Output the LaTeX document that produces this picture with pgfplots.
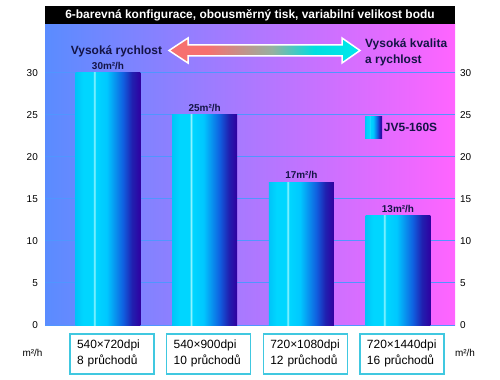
\documentclass[border=0pt]{standalone}
\usepackage{pgfplots}
\pgfplotsset{compat=1.18}
\usepackage{fontspec}
\setmainfont{Liberation Sans}
\definecolor{navy}{RGB}{20,20,70}
\definecolor{bgL}{RGB}{90,140,255}
\definecolor{bgR}{RGB}{255,100,255}
\definecolor{gridc}{RGB}{80,150,255}
\definecolor{boxc}{RGB}{64,200,224}
\definecolor{bA}{RGB}{0,196,248}
\definecolor{bB}{RGB}{0,214,255}
\definecolor{bH}{RGB}{150,245,255}
\definecolor{bC}{RGB}{0,200,255}
\definecolor{bD}{RGB}{16,96,224}
\definecolor{bF}{RGB}{32,32,176}
\definecolor{bE}{RGB}{48,0,160}
\definecolor{arL}{RGB}{246,112,112}
\definecolor{arM}{RGB}{150,176,160}
\definecolor{arC}{RGB}{0,222,224}
\definecolor{arR}{RGB}{0,232,236}
\pgfdeclarehorizontalshading{barshade}{100bp}{color(0bp)=(bA); color(25bp)=(bA); color(31bp)=(bB); color(38.3bp)=(bB); color(39.5bp)=(bH); color(40.7bp)=(bB); color(49bp)=(bC); color(61.5bp)=(bD); color(68.5bp)=(bF); color(75bp)=(bE); color(100bp)=(bE)}
\pgfdeclarehorizontalshading{arrowshade}{100bp}{color(0bp)=(arL); color(25bp)=(arL); color(35bp)=(arL); color(52bp)=(arM); color(63bp)=(arC); color(75bp)=(arR); color(100bp)=(arR)}
\pgfplotsset{barst/.style={ybar, bar width=0.672, bar shift=0pt, draw=none, shade, shading=barshade,
  nodes near coords={\pgfmathprintnumber{\pgfplotspointmeta}m²/h},
  nodes near coords style={font=\bfseries\fontsize{10}{12}\selectfont, text=navy},
  legend image code/.code={\shade[shading=barshade] (0bp,-11bp) rectangle (17bp,11bp);}}}
\begin{document}
\begin{tikzpicture}
\path[use as bounding box] (-45bp,-55bp) rectangle (455bp,325bp);
\begin{axis}[
  scale only axis, width=410bp, height=301bp,
  xmin=-0.652, xmax=3.59, ymin=0, ymax=35.83,
  axis background/.style={left color=bgL, right color=bgR},
  axis line style={draw=none},
  major tick length=0pt,
  ytick={0,5,...,30},
  ymajorgrids, grid style={gridc, line width=1bp},
  xtick={0,1,2,3},
  xticklabels={{540×720dpi\\8 průchodů},{540×900dpi\\10 průchodů},{720×1080dpi\\12 průchodů},{720×1440dpi\\16 průchodů}},
  xticklabel style={draw=boxc, line width=1.5bp, fill=white, text width=70bp, align=left, inner xsep=7bp, inner ysep=3bp, minimum height=40bp, anchor=north, yshift=-8bp, xshift=4bp, font=\fontsize{12}{16}\selectfont},
  yticklabel style={font=\fontsize{10}{12}\selectfont, inner sep=0pt, xshift=-7bp},
  /pgf/number format/assume math mode=true,
  legend style={at={(0.780,0.6545)}, anchor=west, draw=none, fill=none, font=\bfseries\fontsize{12}{14}\selectfont, text=navy, inner sep=0pt},
]
\addplot[barst] coordinates {(0,30)};
\addplot[barst, forget plot] coordinates {(1,25)};
\addplot[barst, forget plot] coordinates {(2,17)};
\addplot[barst, forget plot] coordinates {(3,13)};
\legend{JV5-160S}
\end{axis}
\begin{axis}[
  scale only axis, width=410bp, height=301bp,
  xmin=0, xmax=1, ymin=0, ymax=35.83,
  axis y line*=right, axis x line=none,
  axis line style={draw=none},
  major tick length=0pt,
  ytick={0,5,...,30},
  yticklabel style={font=\fontsize{10}{12}\selectfont, inner sep=0pt, xshift=5bp},
  /pgf/number format/assume math mode=true,
]
\addplot[draw=none] coordinates {(0,0) (1,1)};
\end{axis}
% title bar
\node[fill=black, text=white, minimum width=410bp, minimum height=18bp, inner sep=0pt, font=\bfseries\fontsize{12}{14}\selectfont] at (205bp,310bp) {6-barevná konfigurace, obousměrný tisk, variabilní velikost bodu};
% arrow
\shade[shading=arrowshade, draw=white, line width=1.5bp]
  (124bp,274.5bp) -- (143bp,287bp) -- (143bp,280bp) -- (297bp,280bp) -- (297bp,287bp) -- (315bp,274.5bp) -- (297bp,262bp) -- (297bp,269bp) -- (143bp,269bp) -- (143bp,262bp) -- cycle;
\node[font=\bfseries\fontsize{12}{14}\selectfont, text=navy, inner sep=0pt] at (71.5bp,274bp) {Vysoká rychlost};
\node[font=\bfseries\fontsize{12}{16}\selectfont, text=navy, inner sep=0pt, anchor=west, align=left] at (320bp,273bp) {Vysoká kvalita\\a rychlost};
\node[font=\fontsize{10}{12}\selectfont, inner sep=0pt] at (-12.5bp,-28bp) {m²/h};
\node[font=\fontsize{10}{12}\selectfont, inner sep=0pt] at (420bp,-28bp) {m²/h};
\end{tikzpicture}
\end{document}
